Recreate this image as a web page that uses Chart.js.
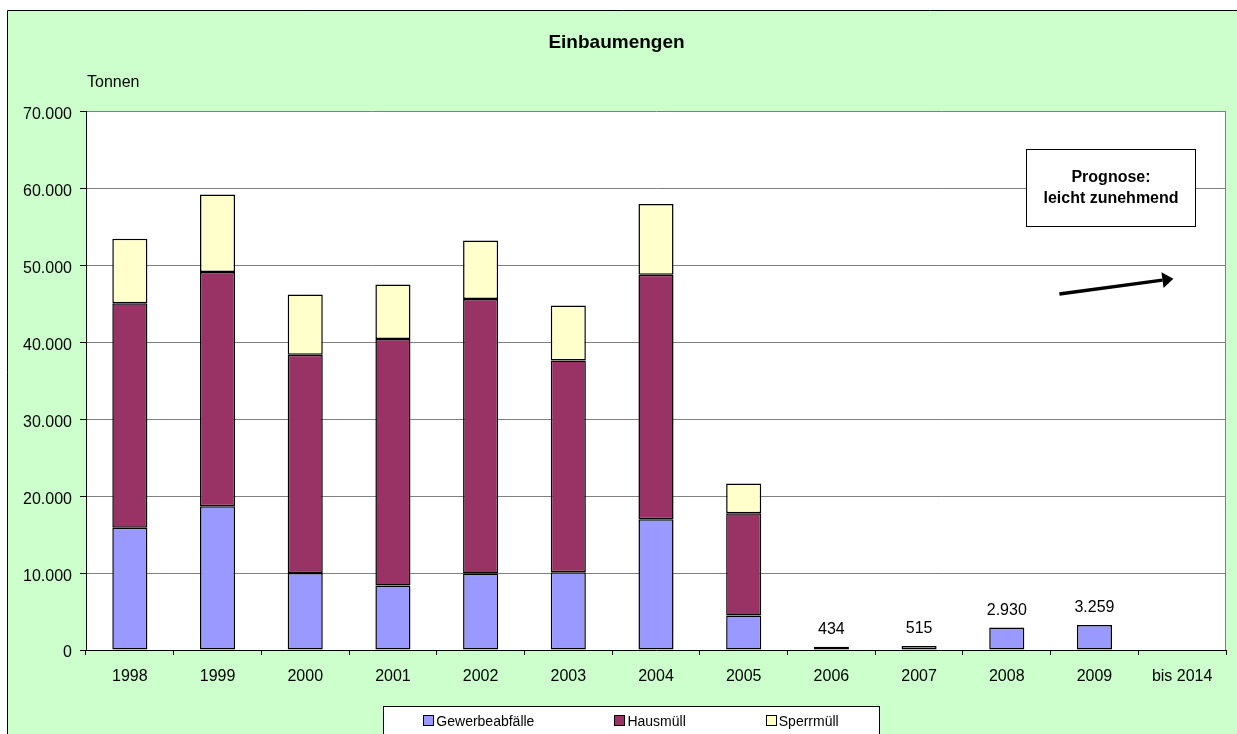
<!DOCTYPE html>
<html lang="de">
<head>
    <meta charset="UTF-8">
    <title>Einbaumengen</title>
    <script src="https://cdn.jsdelivr.net/npm/chart.js"></script>
    <style>
        html, body { margin: 0; padding: 0; background: #fff; }
        #wrap { width: 1237px; height: 734px; }
    </style>
</head>
<body>
<div id="wrap"><canvas id="mengenChart"></canvas></div>
<script>
    // Daten (Tonnen)
    var years = ['1998', '1999', '2000', '2001', '2002', '2003', '2004', '2005', '2006', '2007', '2008', '2009', 'bis 2014'];
    var gewerbeabfaelle = [15900, 18700, 10000, 8400, 9950, 10100, 17000, 4500, 434, 515, 2930, 3259, null];
    var hausmuell = [29200, 30450, 28400, 32050, 35700, 27550, 31800, 13300, null, null, null, null, null];
    var sperrmuell = [8400, 10100, 7850, 7100, 7600, 7150, 9200, 3850, null, null, null, null, null];
    var yMin = 0, yMax = 70000, yStep = 10000;
    var yUnit = 'Tonnen';
    var prognoseText = ['Prognose:', 'leicht zunehmend'];

    var FONT = '"Liberation Sans", Arial, sans-serif';

    function fmt(v) {
        return String(Math.round(v)).replace(/\B(?=(\d{3})+(?!\d))/g, '.');
    }

    // Prognose-Kasten und Pfeil in Achsenkoordinaten (Kategorie-Index, Tonnen)
    var prognoseBox = { x0: 10.22, x1: 12.15, y0: 65200, y1: 55150 };
    var prognoseArrow = { x0: 10.6, y0: 46300, x1: 11.9, y1: 48300 };

    var backgroundPlugin = {
        id: 'background',
        beforeDraw: function(chart) {
            var c = chart.ctx, a = chart.chartArea;
            c.save();
            c.fillStyle = '#ffffff';
            c.fillRect(0, 0, chart.width, chart.height);
            c.fillStyle = '#ccffcc';
            c.fillRect(7, 10, chart.width, chart.height);
            c.strokeStyle = '#000';
            c.lineWidth = 1;
            c.beginPath();
            c.moveTo(7.5, chart.height + 5);
            c.lineTo(7.5, 10.5);
            c.lineTo(chart.width + 5, 10.5);
            c.stroke();
            c.fillStyle = '#ffffff';
            c.fillRect(a.left, a.top, a.right - a.left, a.bottom - a.top);
            c.restore();
        }
    };

    var extrasPlugin = {
        id: 'extras',
        afterDraw: function(chart) {
            var c = chart.ctx, a = chart.chartArea;
            var xs = chart.scales.x, ys = chart.scales.y;
            c.save();

            // rechter Rand der Zeichenflaeche
            c.strokeStyle = '#808080';
            c.lineWidth = 1;
            c.beginPath();
            c.moveTo(Math.round(a.right) - 0.5, a.top);
            c.lineTo(Math.round(a.right) - 0.5, a.bottom);
            c.stroke();

            // Einheit
            c.fillStyle = '#000';
            c.font = '16px ' + FONT;
            c.textAlign = 'left';
            c.textBaseline = 'middle';
            c.fillText(yUnit, a.left + 1, a.top - 29);

            // Wertebeschriftung fuer Jahre nur mit Gewerbeabfaellen
            var meta = chart.getDatasetMeta(0);
            c.textAlign = 'center';
            meta.data.forEach(function(bar, i) {
                if (gewerbeabfaelle[i] != null && hausmuell[i] == null && sperrmuell[i] == null) {
                    c.fillText(fmt(gewerbeabfaelle[i]), bar.x, bar.y - 17);
                }
            });

            // Prognose-Kasten
            var bx0 = Math.round(xs.getPixelForValue(prognoseBox.x0)) + 0.5;
            var bx1 = Math.round(xs.getPixelForValue(prognoseBox.x1)) + 0.5;
            var by0 = Math.round(ys.getPixelForValue(prognoseBox.y0)) + 0.5;
            var by1 = Math.round(ys.getPixelForValue(prognoseBox.y1)) + 0.5;
            c.fillStyle = '#fff';
            c.fillRect(bx0, by0, bx1 - bx0, by1 - by0);
            c.strokeStyle = '#000';
            c.strokeRect(bx0, by0, bx1 - bx0, by1 - by0);
            c.fillStyle = '#000';
            c.font = 'bold 16px ' + FONT;
            var cy = (by0 + by1) / 2, cx = (bx0 + bx1) / 2;
            c.fillText(prognoseText[0], cx, cy - 10);
            c.fillText(prognoseText[1], cx, cy + 11);

            // Pfeil
            var ax0 = xs.getPixelForValue(prognoseArrow.x0), ay0 = ys.getPixelForValue(prognoseArrow.y0);
            var ax1 = xs.getPixelForValue(prognoseArrow.x1), ay1 = ys.getPixelForValue(prognoseArrow.y1);
            var ang = Math.atan2(ay1 - ay0, ax1 - ax0);
            var hl = 11, hw = 8;
            c.strokeStyle = '#000';
            c.lineWidth = 3.5;
            c.beginPath();
            c.moveTo(ax0, ay0);
            c.lineTo(ax1 - hl * Math.cos(ang), ay1 - hl * Math.sin(ang));
            c.stroke();
            c.beginPath();
            c.moveTo(ax1, ay1);
            c.lineTo(ax1 - hl * Math.cos(ang) + hw * Math.sin(ang), ay1 - hl * Math.sin(ang) - hw * Math.cos(ang));
            c.lineTo(ax1 - hl * Math.cos(ang) - hw * Math.sin(ang), ay1 - hl * Math.sin(ang) + hw * Math.cos(ang));
            c.closePath();
            c.fill();

            // Legende
            var sets = chart.data.datasets;
            c.font = '14px ' + FONT;
            var gap = 80, box = 10, textGap = 3;
            var widths = sets.map(function(ds) { return box + textGap + c.measureText(ds.label).width; });
            var total = widths.reduce(function(s, w) { return s + w; }, 0) + gap * (sets.length - 1);
            var legCx = 631;
            var lx0 = Math.round(legCx - total / 2 - 40) + 0.5, lx1 = Math.round(legCx + total / 2 + 40) + 0.5;
            var ly0 = 706.5, ly1 = chart.height + 10;
            c.fillStyle = '#fff';
            c.fillRect(lx0, ly0, lx1 - lx0, ly1 - ly0);
            c.lineWidth = 1;
            c.strokeStyle = '#000';
            c.strokeRect(lx0, ly0, lx1 - lx0, ly1 - ly0);
            var x = legCx - total / 2, ly = 720;
            c.textAlign = 'left';
            c.textBaseline = 'middle';
            sets.forEach(function(ds, i) {
                var rx = Math.round(x) + 0.5, ry = Math.round(ly - box / 2) + 0.5;
                c.fillStyle = ds.backgroundColor;
                c.fillRect(rx, ry, box, box);
                c.strokeStyle = '#000';
                c.strokeRect(rx, ry, box, box);
                c.fillStyle = '#000';
                c.fillText(ds.label, x + box + textGap, ly + 2);
                x += widths[i] + gap;
            });

            c.restore();
        }
    };

    var ctx = document.getElementById('mengenChart').getContext('2d');
    var mengenChart = new Chart(ctx, {
        type: 'bar',
        data: {
            labels: years,
            datasets: [{
                label: 'Gewerbeabfälle',
                data: gewerbeabfaelle,
                backgroundColor: '#9999ff',
                borderColor: '#000000',
                borderWidth: 1.5,
                borderSkipped: false
            }, {
                label: 'Hausmüll',
                data: hausmuell,
                backgroundColor: '#993366',
                borderColor: '#000000',
                borderWidth: 1.5,
                borderSkipped: false
            }, {
                label: 'Sperrmüll',
                data: sperrmuell,
                backgroundColor: '#ffffcc',
                borderColor: '#000000',
                borderWidth: 1.5,
                borderSkipped: false
            }]
        },
        options: {
            responsive: true,
            maintainAspectRatio: false,
            animation: false,
            devicePixelRatio: 1,
            categoryPercentage: 1.0,
            barPercentage: 0.4,
            layout: { padding: { left: 7, right: 11, top: 10, bottom: 0 } },
            plugins: {
                legend: { display: false },
                tooltip: { enabled: false },
                title: {
                    display: true,
                    text: 'Einbaumengen',
                    color: '#000',
                    font: { family: FONT, size: 19, weight: 'bold' },
                    padding: { top: 21, bottom: 58 }
                }
            },
            scales: {
                x: {
                    stacked: true,
                    offset: true,
                    grid: { display: true, drawOnChartArea: false, drawTicks: true, tickLength: 5, tickColor: '#000', offset: true },
                    border: { color: '#000', width: 1 },
                    ticks: { color: '#000', font: { family: FONT, size: 16 }, padding: 12, maxRotation: 0, autoSkip: false },
                    afterFit: function(s) { s.height = 84; }
                },
                y: {
                    stacked: true,
                    min: yMin,
                    max: yMax,
                    grid: { color: '#808080', tickLength: 6, tickColor: '#000', lineWidth: 1 },
                    border: { color: '#000', width: 1 },
                    ticks: {
                        stepSize: yStep,
                        color: '#000',
                        padding: 8,
                        labelOffset: 3,
                        font: { family: FONT, size: 16 },
                        callback: function(v) { return fmt(v); }
                    },
                    afterFit: function(s) { s.width = 79; }
                }
            }
        },
        plugins: [backgroundPlugin, extrasPlugin]
    });
</script>
</body>
</html>
